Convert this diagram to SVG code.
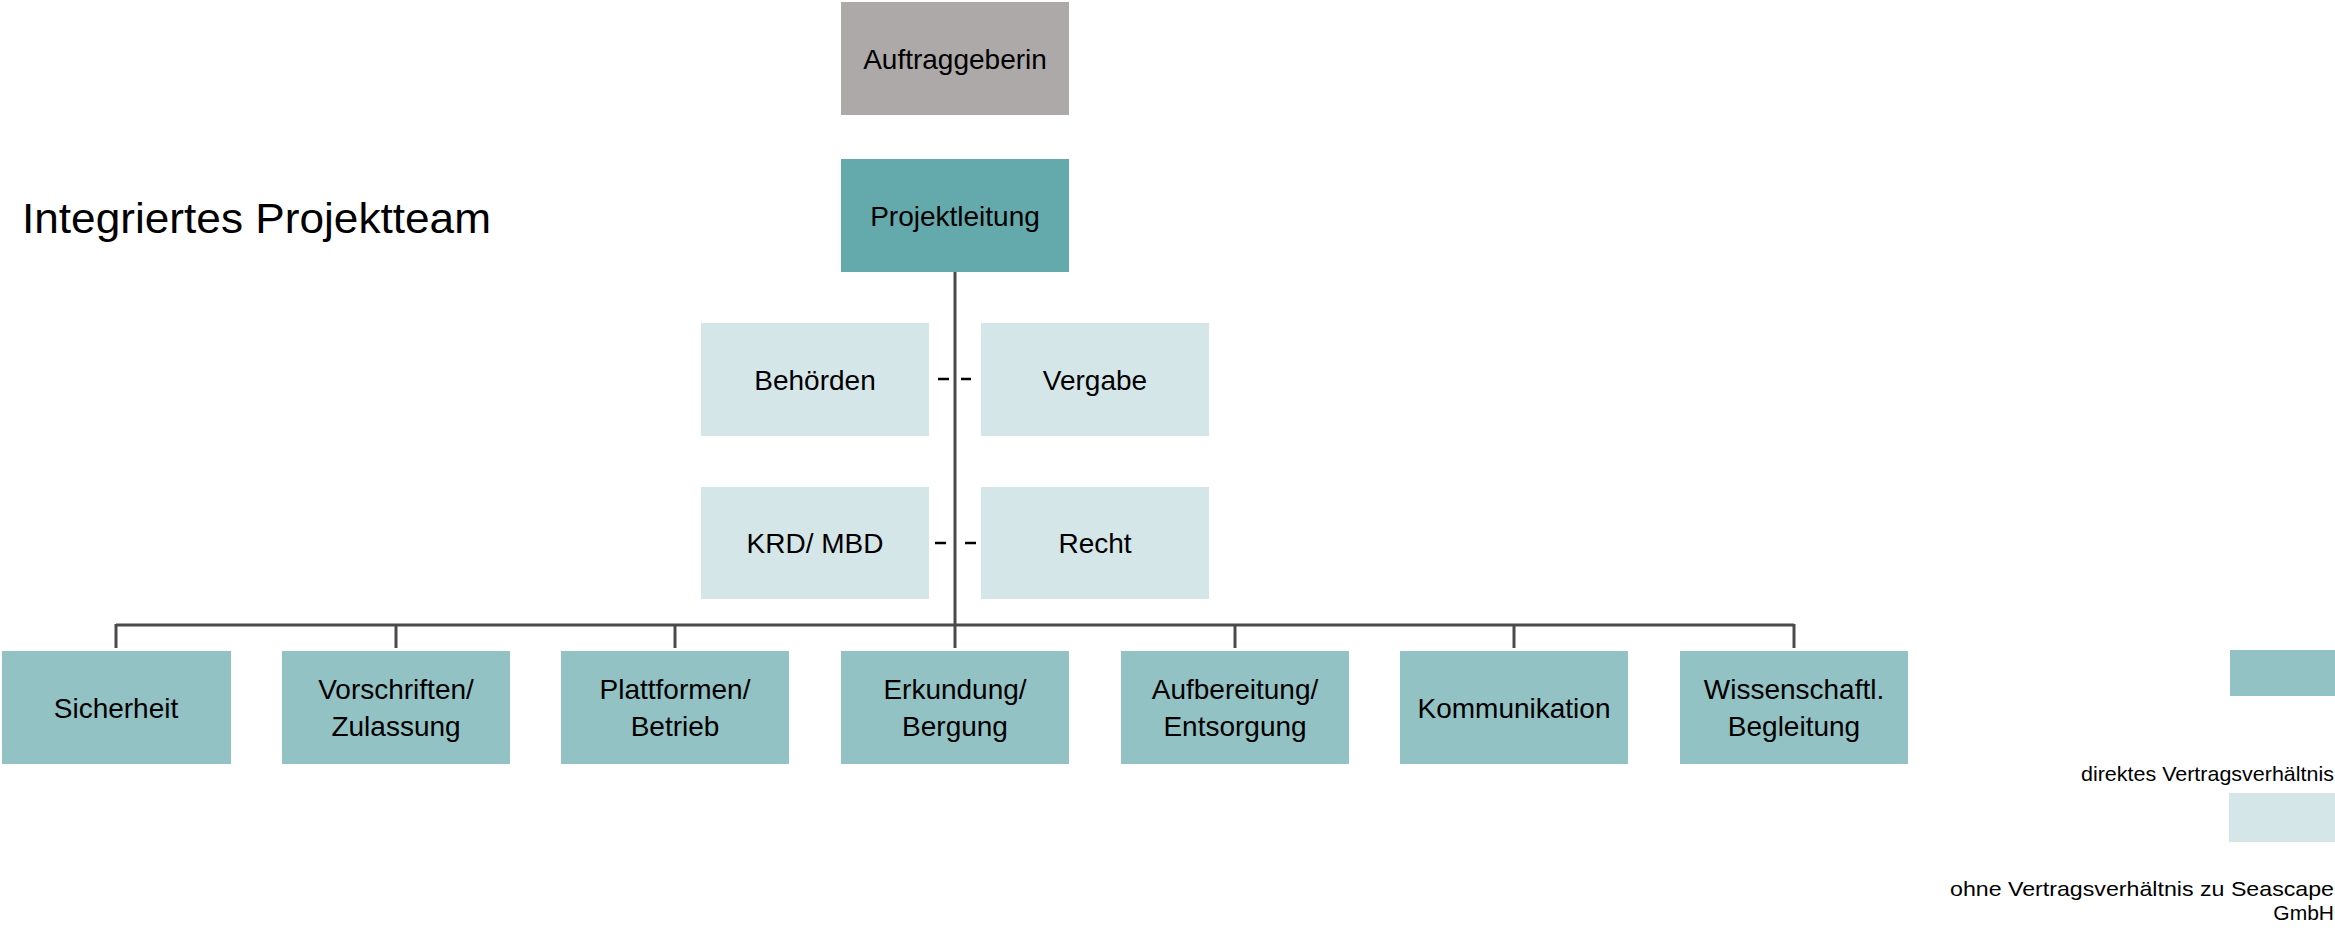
<svg xmlns="http://www.w3.org/2000/svg" width="2335" height="928" viewBox="0 0 2335 928">
<style>
  text { font-family: "Liberation Sans", Arial, sans-serif; fill: #000; }
  .lbl { font-size: 28px; text-anchor: middle; }
  .gray { fill: #ADA9A8; }
  .dark { fill: #64AAAD; }
  .mid { fill: #93C2C4; }
  .light { fill: #D5E6E8; }
  .conn { stroke: #4A4A4A; stroke-width: 3; fill: none; }
  .dash { stroke: #000; stroke-width: 2.5; }
  .leg { font-size: 21px; text-anchor: end; }
</style>
<rect width="2335" height="928" fill="#fff"/>
<text id="title" x="22" y="233" font-size="42" textLength="469" lengthAdjust="spacingAndGlyphs">Integriertes Projektteam</text>
<g id="connectors">
  <line class="conn" x1="955" y1="272" x2="955" y2="648"/>
  <line class="conn" x1="116" y1="625" x2="1794" y2="625"/>
  <line class="conn" x1="116" y1="624" x2="116" y2="648"/>
  <line class="conn" x1="396" y1="625" x2="396" y2="648"/>
  <line class="conn" x1="675" y1="625" x2="675" y2="648"/>
  <line class="conn" x1="1235" y1="625" x2="1235" y2="648"/>
  <line class="conn" x1="1514" y1="625" x2="1514" y2="648"/>
  <line class="conn" x1="1794" y1="624" x2="1794" y2="648"/>
  <line class="dash" x1="938" y1="379" x2="949" y2="379"/>
  <line class="dash" x1="961" y1="379" x2="971" y2="379"/>
  <line class="dash" x1="935" y1="543" x2="946" y2="543"/>
  <line class="dash" x1="965" y1="543" x2="976" y2="543"/>
</g>
<g id="auftraggeberin"><rect class="gray" x="841" y="2" width="228" height="113"/><text class="lbl" x="955" y="68.5">Auftraggeberin</text></g>
<g id="projektleitung"><rect class="dark" x="841" y="159" width="228" height="113"/><text class="lbl" x="955" y="225.5">Projektleitung</text></g>
<g id="behoerden"><rect class="light" x="701" y="323" width="228" height="113"/><text class="lbl" x="815" y="389.5">Behörden</text></g>
<g id="vergabe"><rect class="light" x="981" y="323" width="228" height="113"/><text class="lbl" x="1095" y="389.5">Vergabe</text></g>
<g id="krd"><rect class="light" x="701" y="487" width="228" height="112"/><text class="lbl" x="815" y="553">KRD/ MBD</text></g>
<g id="recht"><rect class="light" x="981" y="487" width="228" height="112"/><text class="lbl" x="1095" y="553">Recht</text></g>
<g id="sicherheit"><rect class="mid" x="2" y="651" width="229" height="113"/><text class="lbl" x="116" y="717.5">Sicherheit</text></g>
<g id="vorschriften"><rect class="mid" x="282" y="651" width="228" height="113"/><text class="lbl" x="396" y="699">Vorschriften/</text><text class="lbl" x="396" y="736">Zulassung</text></g>
<g id="plattformen"><rect class="mid" x="561" y="651" width="228" height="113"/><text class="lbl" x="675" y="699">Plattformen/</text><text class="lbl" x="675" y="736">Betrieb</text></g>
<g id="erkundung"><rect class="mid" x="841" y="651" width="228" height="113"/><text class="lbl" x="955" y="699">Erkundung/</text><text class="lbl" x="955" y="736">Bergung</text></g>
<g id="aufbereitung"><rect class="mid" x="1121" y="651" width="228" height="113"/><text class="lbl" x="1235" y="699">Aufbereitung/</text><text class="lbl" x="1235" y="736">Entsorgung</text></g>
<g id="kommunikation"><rect class="mid" x="1400" y="651" width="228" height="113"/><text class="lbl" x="1514" y="717.5">Kommunikation</text></g>
<g id="wissenschaftl"><rect class="mid" x="1680" y="651" width="228" height="113"/><text class="lbl" x="1794" y="699">Wissenschaftl.</text><text class="lbl" x="1794" y="736">Begleitung</text></g>
<g id="legend">
  <rect class="mid" x="2230" y="650" width="105" height="46"/>
  <text class="leg" x="2334" y="781" textLength="253" lengthAdjust="spacingAndGlyphs">direktes Vertragsverhältnis</text>
  <rect class="light" x="2229" y="793" width="106" height="49"/>
  <text class="leg" x="2334" y="896" textLength="384" lengthAdjust="spacingAndGlyphs">ohne Vertragsverhältnis zu Seascape</text>
  <text class="leg" x="2334" y="920">GmbH</text>
</g>
</svg>
